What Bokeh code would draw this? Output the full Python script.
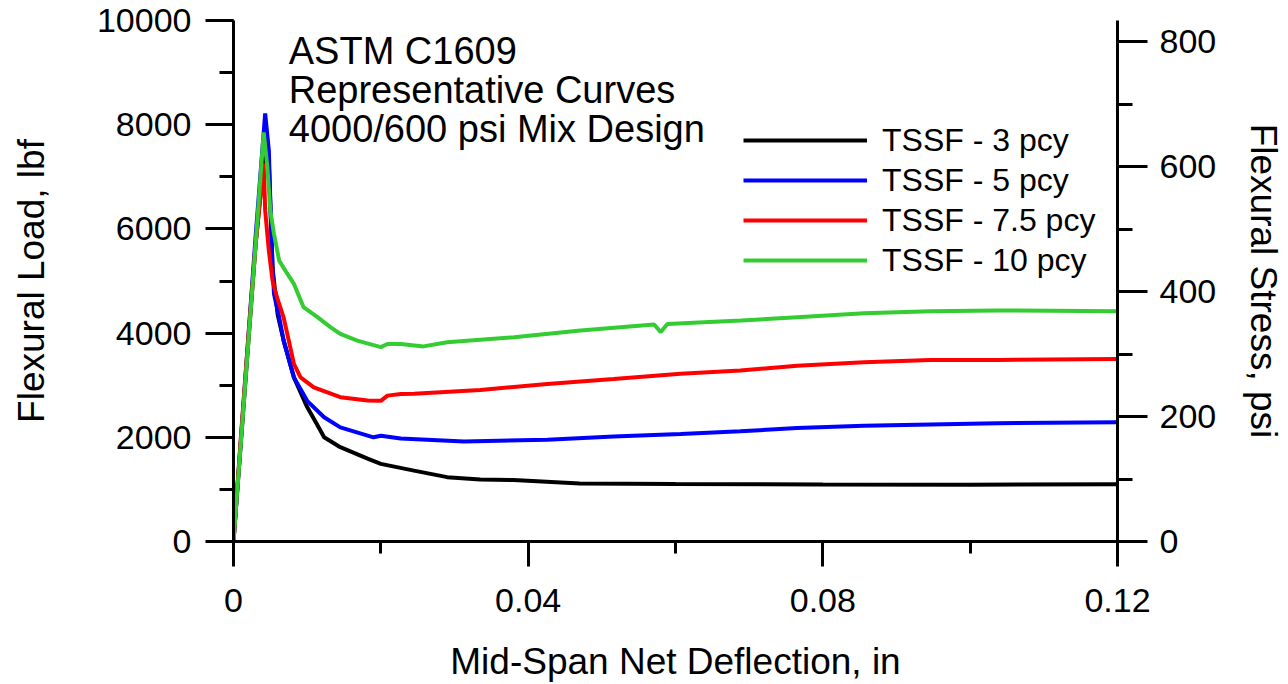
from bokeh.plotting import figure
from bokeh.models import (Range1d, LinearAxis, SingleIntervalTicker, Legend, LegendItem,
                          Label, CustomJSTickFormatter)
from bokeh.embed import file_html
from bokeh.resources import INLINE

FONT = "Liberation Sans"

# ---------------- data ----------------
x_3 = [0, 0.0010, 0.0020, 0.0030, 0.0043, 0.0048, 0.0053, 0.0060, 0.0068, 0.0082, 0.0100,
       0.0114, 0.0118, 0.0123, 0.0145, 0.0182, 0.0200, 0.0245, 0.0290, 0.0335, 0.0380, 0.0470,
       0.0600, 0.0800, 0.1000, 0.1200]
y_3 = [0, 1900, 3800, 5700, 7600, 7250, 5250, 4350, 3860, 3150, 2580,
       2230, 2130, 2000, 1810, 1590, 1490, 1360, 1235, 1190, 1180, 1115,
       1105, 1095, 1090, 1100]

x_5 = [0, 0.0010, 0.0020, 0.0030, 0.0043, 0.0048, 0.0050, 0.0053, 0.0055, 0.0062, 0.0068,
       0.0082, 0.0100, 0.0123, 0.0145, 0.0190, 0.0200, 0.0227, 0.0313, 0.0426, 0.0516,
       0.0607, 0.0688, 0.0765, 0.0856, 0.0946, 0.1037, 0.1200]
y_5 = [0, 1950, 3900, 5850, 8215, 7500, 6540, 5265, 4750, 4300, 3860,
       3150, 2700, 2385, 2190, 2000, 2030, 1975, 1920, 1955, 2015,
       2065, 2115, 2180, 2220, 2245, 2270, 2290]

x_75 = [0, 0.0010, 0.0020, 0.0030, 0.0041, 0.0043, 0.0048, 0.0053, 0.0059, 0.0068, 0.0075,
        0.0082, 0.0091, 0.0109, 0.0145, 0.0182, 0.0200, 0.0209, 0.0227, 0.0245, 0.0335,
        0.0426, 0.0516, 0.0607, 0.0688, 0.0765, 0.0856, 0.0946, 0.1037, 0.1200]
y_75 = [0, 2000, 3900, 5700, 7255, 6350, 5580, 5010, 4690, 4300, 3860,
        3410, 3150, 2960, 2770, 2705, 2700, 2800, 2830, 2835, 2910,
        3025, 3120, 3220, 3280, 3375, 3440, 3485, 3485, 3505]

x_10 = [0, 0.0010, 0.0020, 0.0030, 0.0041, 0.0046, 0.0050, 0.0055, 0.0062, 0.0073, 0.0082,
        0.0095, 0.0114, 0.0132, 0.0145, 0.0168, 0.0200, 0.0209, 0.0227, 0.0258, 0.0290,
        0.0381, 0.0471, 0.0571, 0.0580, 0.0589, 0.0689, 0.0765, 0.0856, 0.0946, 0.1037, 0.1200]
y_10 = [0, 1900, 3800, 5700, 7850, 7180, 6350, 5900, 5390, 5140, 4945,
        4500, 4305, 4110, 3985, 3855, 3730, 3790, 3790, 3745, 3825,
        3920, 4050, 4165, 4020, 4175, 4240, 4305, 4380, 4420, 4435, 4420]

series_names = ["TSSF - 3 pcy", "TSSF - 5 pcy", "TSSF - 7.5 pcy", "TSSF - 10 pcy"]
series_colors = ["#000000", "#0000FF", "#FF0000", "#33CC33"]
series_x = [x_3, x_5, x_75, x_10]
series_y = [y_3, y_5, y_75, y_10]

title_lines = ["ASTM C1609", "Representative Curves", "4000/600 psi Mix Design"]

# ---------------- figure ----------------
p = figure(width=1288, height=684,
           x_range=Range1d(0, 0.12), y_range=Range1d(0, 10000),
           output_backend="svg", toolbar_location=None,
           min_border_left=233, min_border_right=171,
           min_border_top=20, min_border_bottom=143)
p.extra_y_ranges = {"stress": Range1d(0, 833.6)}
p.outline_line_color = None
p.xgrid.visible = False
p.ygrid.visible = False
p.background_fill_color = "white"
p.border_fill_color = "white"

def style_axis(ax, tick_out, minor_out, standoff, label_standoff):
    ax.axis_line_width = 3
    ax.axis_line_color = "black"
    ax.major_tick_line_width = 3
    ax.minor_tick_line_width = 3
    ax.major_tick_line_color = "black"
    ax.minor_tick_line_color = "black"
    ax.major_tick_in = 0
    ax.minor_tick_in = 0
    ax.major_tick_out = tick_out
    ax.minor_tick_out = minor_out
    ax.major_label_text_font = FONT
    ax.major_label_text_font_size = "34px"
    ax.major_label_text_color = "black"
    ax.major_label_standoff = standoff
    ax.axis_label_text_font = FONT
    ax.axis_label_text_font_size = "37px"
    ax.axis_label_text_font_style = "normal"
    ax.axis_label_text_color = "black"
    ax.axis_label_standoff = label_standoff

xax = p.xaxis[0]
xax.ticker = SingleIntervalTicker(interval=0.04, num_minor_ticks=2)
xax.formatter = CustomJSTickFormatter(code="return Math.abs(tick) < 1e-9 ? '0' : tick.toFixed(2);")
xax.axis_label = "Mid-Span Net Deflection, in"
style_axis(xax, 25, 12, 22, 26)

yax = p.yaxis[0]
yax.ticker = SingleIntervalTicker(interval=2000, num_minor_ticks=2)
yax.axis_label = "Flexural Load, lbf"
style_axis(yax, 28, 14, 14, 42)

rax = LinearAxis(y_range_name="stress", axis_label="Flexural Stress, psi",
                 ticker=SingleIntervalTicker(interval=200, num_minor_ticks=2))
style_axis(rax, 30, 15, 12, 24)
p.add_layout(rax, "right")

items = []
for name, col, xs, ys in zip(series_names, series_colors, series_x, series_y):
    r = p.line(xs, ys, line_color=col, line_width=4)
    items.append(LegendItem(label=name, renderers=[r]))

legend = Legend(items=items, location=(510, 261),
                glyph_width=124, glyph_height=40, label_height=40,
                label_standoff=15, spacing=0, padding=0, margin=0,
                border_line_alpha=0, background_fill_alpha=0,
                label_text_font=FONT, label_text_font_size="32px",
                label_text_color="black")
p.add_layout(legend)

title_y = [9405, 8675, 7925]
for txt, ty in zip(title_lines, title_y):
    p.add_layout(Label(x=0.0075, y=ty, text=txt, text_font=FONT, text_font_size="38px",
                       text_color="black", text_baseline="alphabetic"))

open("out.html", "w").write(file_html(p, INLINE))
